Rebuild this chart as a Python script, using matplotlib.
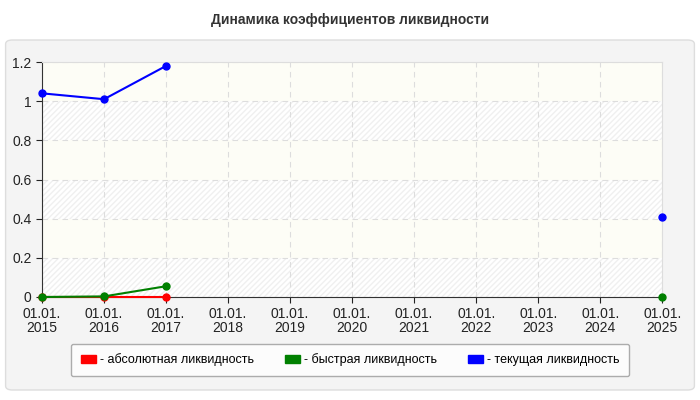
import matplotlib
matplotlib.use("Agg")
import matplotlib.pyplot as plt
from matplotlib.patches import FancyBboxPatch, Rectangle
import numpy as np

plt.rcParams["font.family"] = ["Liberation Sans", "DejaVu Sans"]

title = "Динамика коэффициентов ликвидности"
years = list(range(2015, 2026))
xlabels = [f"01.01.\n{y}" for y in years]
nan = np.nan
absolute = [0, 0, 0, nan, nan, nan, nan, nan, nan, nan, nan]
quick = [0, 0.003, 0.055, nan, nan, nan, nan, nan, nan, nan, 0]
current = [1.04, 1.01, 1.18, nan, nan, nan, nan, nan, nan, nan, 0.41]
series = [("- абсолютная ликвидность", absolute, "#ff0000"),
          ("- быстрая ликвидность", quick, "#008000"),
          ("- текущая ликвидность", current, "#0000ff")]

fig = plt.figure(figsize=(7, 4), dpi=100)
fig.patch.set_facecolor("white")
bg = FancyBboxPatch((0.008, 0.025), 0.984, 0.875, boxstyle="round,pad=0,rounding_size=0.01",
                    transform=fig.transFigure, facecolor="#f4f4f4", edgecolor="#dddddd", lw=1, zorder=-10)
fig.patches.append(bg)
fig.text(0.5, 0.95, title, ha="center", va="center", fontsize=10, fontweight="bold", color="#333333")

ax = fig.add_axes([0.06, 0.2575, 0.886, 0.5875])
ax.set_zorder(1)
ax.set_facecolor("white")
for i, (lo, hi) in enumerate([(0, 0.2), (0.2, 0.4), (0.4, 0.6), (0.6, 0.8), (0.8, 1.0), (1.0, 1.2)]):
    if i % 2 == 1:
        ax.add_patch(Rectangle((0, lo), 1, hi - lo, transform=ax.get_yaxis_transform(),
                               facecolor="#fdfdf6", edgecolor="none", zorder=0))
    else:
        ax.add_patch(Rectangle((0, lo), 1, hi - lo, transform=ax.get_yaxis_transform(),
                               facecolor="white", edgecolor="#f0f0f0", hatch="//////", lw=0, zorder=0))
x = np.array(years)
for name, vals, c in series:
    ax.plot(x, vals, color=c, lw=1.5, marker="o", ms=5, label=name, zorder=3, clip_on=False)
ax.set_xlim(2015, 2025)
ax.set_ylim(0, 1.2)
ax.set_xticks(years)
ax.set_xticklabels(xlabels, fontsize=10, linespacing=1.0)
ax.set_yticks([0, 0.2, 0.4, 0.6, 0.8, 1.0, 1.2])
ax.set_yticklabels(["0", "0.2", "0.4", "0.6", "0.8", "1", "1.2"], fontsize=10)
ax.grid(True, color="#dddddd", ls=(0, (5, 4)), lw=0.8)
for s in ["top", "right"]:
    ax.spines[s].set_color("#dddddd")
ax.spines["left"].set_color("#333333")
ax.spines["bottom"].set_color("#333333")
ax.tick_params(colors="#222222", length=4)

handles = [Rectangle((0, 0), 1, 1, facecolor=c, edgecolor=c) for _, _, c in series]
leg = fig.legend(handles, [n for n, _, _ in series], loc="center", bbox_to_anchor=(0.5, 0.1),
                 ncol=3, fontsize=9, frameon=True, handlelength=1.2, handleheight=0.6,
                 handletextpad=0.3, columnspacing=2.5, borderpad=0.8, fancybox=True)
leg.get_frame().set_edgecolor("#999999")
leg.get_frame().set_facecolor("white")
fig.savefig("out.png", dpi=100)
